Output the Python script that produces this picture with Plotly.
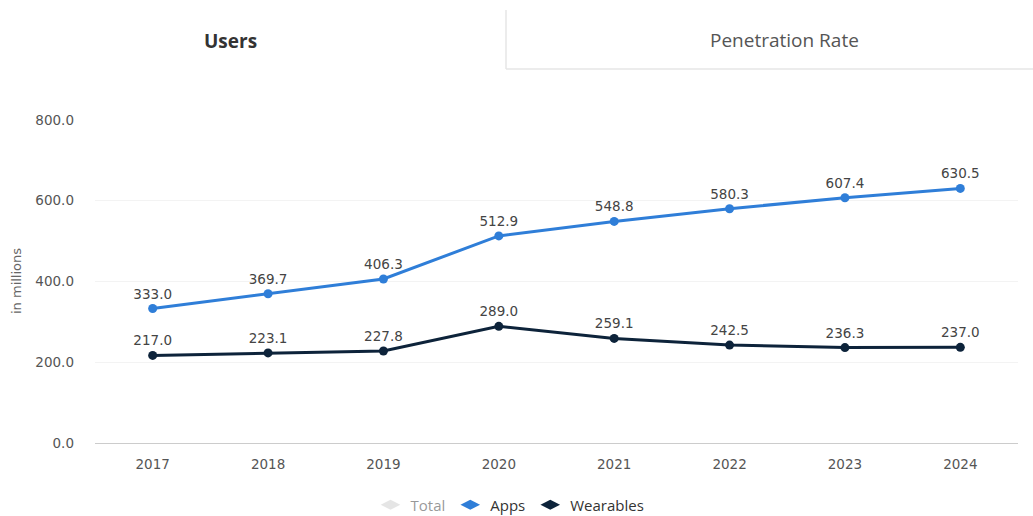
import plotly.graph_objects as go

years = ["2017", "2018", "2019", "2020", "2021", "2022", "2023", "2024"]
apps = [333.0, 369.7, 406.3, 512.9, 548.8, 580.3, 607.4, 630.5]
wearables = [217.0, 223.1, 227.8, 289.0, 259.1, 242.5, 236.3, 237.0]
total = [None] * len(years)  # hidden series in the reference
y_ticks = [0, 200, 400, 600, 800]
y_tick_labels = ["0.0", "200.0", "400.0", "600.0", "800.0"]

APPS_C = "#2f7ed8"
WEAR_C = "#0d233a"
LBL_FONT = dict(family="DejaVu Sans", size=13.5, color="#444444")

fig = go.Figure()
# data traces (legend handled by marker-only legend entries below)
fig.add_trace(go.Scatter(
    x=years, y=apps, name="Apps", mode="lines+markers+text", showlegend=False,
    line=dict(color=APPS_C, width=3), marker=dict(size=9, color=APPS_C),
    text=[f"{v:.1f}" for v in apps], textposition="top center",
    textfont=LBL_FONT, cliponaxis=False, legendgroup="apps"))
fig.add_trace(go.Scatter(
    x=years, y=wearables, name="Wearables", mode="lines+markers+text", showlegend=False,
    line=dict(color=WEAR_C, width=3), marker=dict(size=9, color=WEAR_C),
    text=[f"{v:.1f}" for v in wearables], textposition="top center",
    textfont=LBL_FONT, cliponaxis=False, legendgroup="wear"))

# legend entries
fig.add_trace(go.Scatter(
    x=years, y=total, name="Total", mode="markers",
    marker=dict(size=14, symbol="diamond-wide", color="#cccccc"),
    visible="legendonly", legendrank=1))
fig.add_trace(go.Scatter(
    x=years, y=[None] * len(years), name="Apps", mode="markers",
    marker=dict(size=14, symbol="diamond-wide", color=APPS_C),
    legendgroup="apps", legendrank=2))
fig.add_trace(go.Scatter(
    x=years, y=[None] * len(years), name="Wearables", mode="markers",
    marker=dict(size=14, symbol="diamond-wide", color=WEAR_C),
    legendgroup="wear", legendrank=3))

L, R, T, B = 95, 15, 120, 73
PW, PH = 1033 - L - R, 516 - T - B


def px(x):
    return (x - L) / PW


def py(y):
    return (516 - B - y) / PH


fig.update_layout(
    width=1033, height=516,
    margin=dict(l=L, r=R, t=T, b=B, autoexpand=False),
    paper_bgcolor="white", plot_bgcolor="white",
    font=dict(family="DejaVu Sans", color="#555555"),
    showlegend=True,
    legend=dict(orientation="h", x=px(510), xanchor="center", y=py(505), yanchor="middle",
                font=dict(family="Open Sans", size=15, color="#333333"),
                itemclick=False, itemdoubleclick=False, itemwidth=30),
    xaxis=dict(type="category", range=[-0.5, len(years) - 0.5],
               showgrid=False, showline=True, linecolor="#cccccc",
               linewidth=1, ticks="", automargin=False, ticklabelstandoff=9,
               tickfont=dict(family="DejaVu Sans", size=13.5, color="#555555"),
               fixedrange=True),
    yaxis=dict(range=[0, 800], tickvals=y_ticks, ticktext=y_tick_labels,
               showgrid=True, gridcolor="#f3f3f3", zeroline=False, showline=False,
               automargin=False,
               tickfont=dict(family="DejaVu Sans", size=13.5, color="#555555"),
               ticklabelstandoff=20, fixedrange=True),
    shapes=[
        dict(type="line", xref="paper", yref="paper", x0=px(506), x1=px(506),
             y0=py(10), y1=py(69), line=dict(color="#e6e6e6", width=1.5)),
        dict(type="line", xref="paper", yref="paper", x0=px(506), x1=px(1033),
             y0=py(69), y1=py(69), line=dict(color="#e6e6e6", width=1.5)),
    ],
    annotations=[
        dict(text="<b>Users</b>", xref="paper", yref="paper", x=px(230), y=py(41),
             xanchor="center", yanchor="middle",
             showarrow=False, font=dict(family="Open Sans", size=19, color="#333333")),
        dict(text="Penetration Rate", xref="paper", yref="paper", x=px(784), y=py(40),
             xanchor="center", yanchor="middle",
             showarrow=False, font=dict(family="Open Sans", size=19, color="#555555")),
        dict(text="in millions", xref="paper", yref="paper", x=px(16), y=py(281),
             xanchor="center", yanchor="middle",
             textangle=-90, showarrow=False, font=dict(family="DejaVu Sans", size=13, color="#666666")),
    ],
)

fig.write_html("out.html")
